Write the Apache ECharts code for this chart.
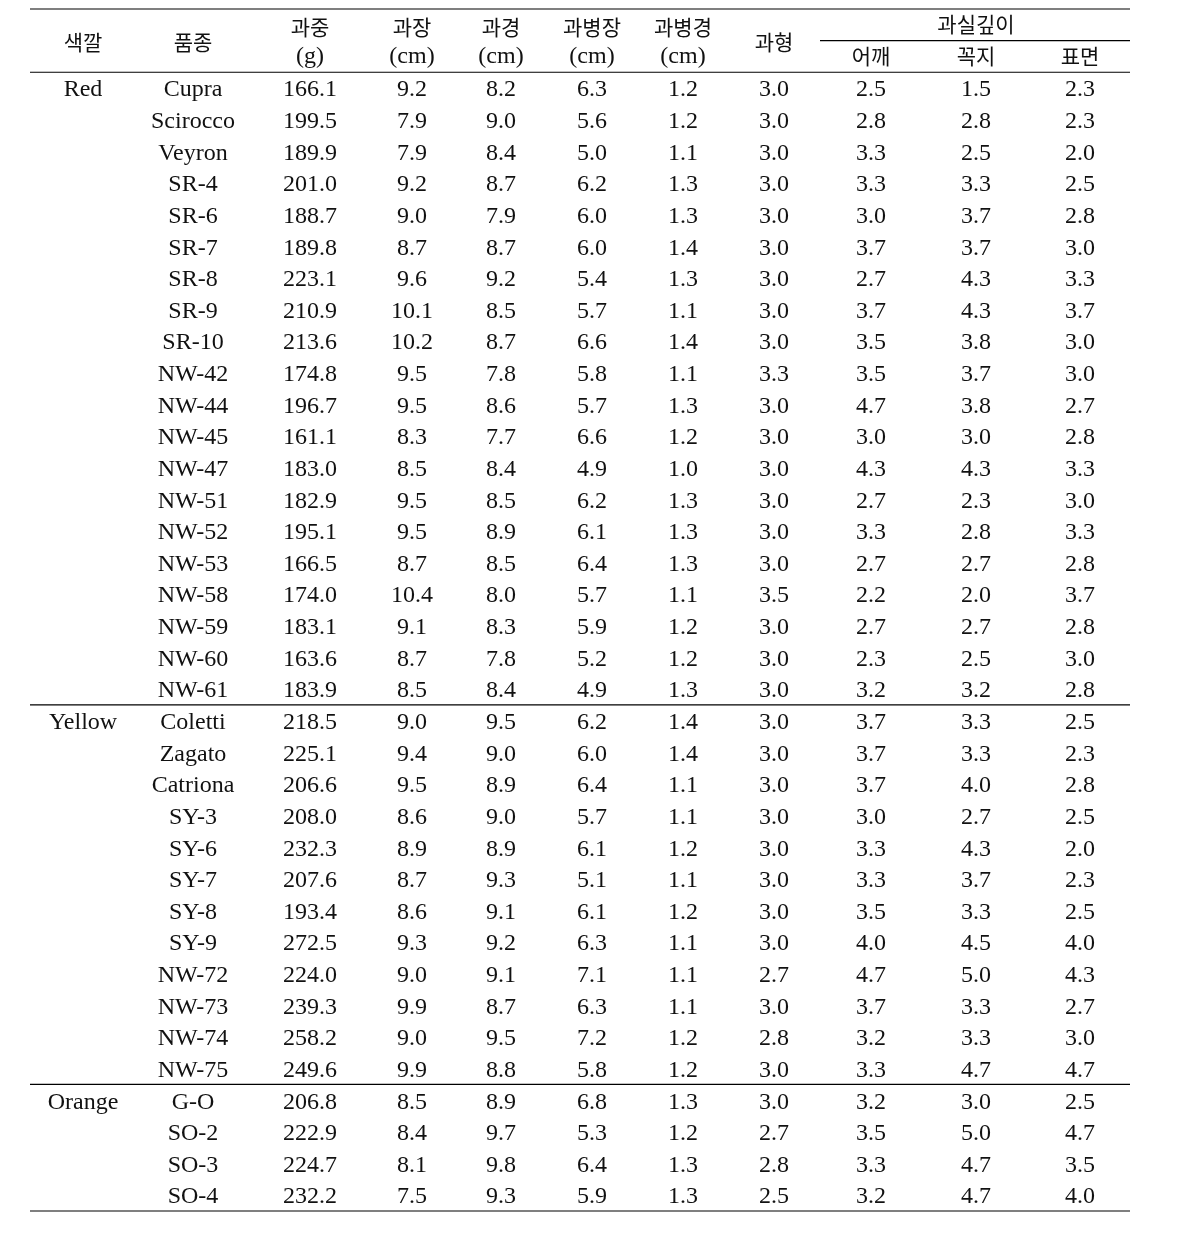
<!DOCTYPE html>
<html>
<head>
<meta charset="utf-8">
<title>품종별 과실 특성</title>
<script src="https://cdn.jsdelivr.net/npm/echarts@6/dist/echarts.min.js"></script>
<style>
html, body { margin: 0; padding: 0; background: #fff; }
#chart { width: 1180px; height: 1250px; }
</style>
</head>
<body>
<div id="chart"></div>
<script>
// 색깔 그룹
const colorGroups = ['Red', 'Yellow', 'Orange']
const groupSizes = [20, 12, 4]

// 품종
const varieties = [
  'Cupra', 'Scirocco', 'Veyron', 'SR-4', 'SR-6', 'SR-7', 'SR-8', 'SR-9', 'SR-10', 'NW-42',
  'NW-44', 'NW-45', 'NW-47', 'NW-51', 'NW-52', 'NW-53', 'NW-58', 'NW-59', 'NW-60', 'NW-61',
  'Coletti', 'Zagato', 'Catriona', 'SY-3', 'SY-6', 'SY-7', 'SY-8', 'SY-9', 'NW-72', 'NW-73',
  'NW-74', 'NW-75',
  'G-O', 'SO-2', 'SO-3', 'SO-4'
]
// 과중 (g)
const fruitWeight = [
  166.1, 199.5, 189.9, 201.0, 188.7, 189.8, 223.1, 210.9, 213.6, 174.8,
  196.7, 161.1, 183.0, 182.9, 195.1, 166.5, 174.0, 183.1, 163.6, 183.9,
  218.5, 225.1, 206.6, 208.0, 232.3, 207.6, 193.4, 272.5, 224.0, 239.3,
  258.2, 249.6,
  206.8, 222.9, 224.7, 232.2
]
// 과장 (cm)
const fruitLength = [
  9.2, 7.9, 7.9, 9.2, 9.0, 8.7, 9.6, 10.1, 10.2, 9.5,
  9.5, 8.3, 8.5, 9.5, 9.5, 8.7, 10.4, 9.1, 8.7, 8.5,
  9.0, 9.4, 9.5, 8.6, 8.9, 8.7, 8.6, 9.3, 9.0, 9.9,
  9.0, 9.9,
  8.5, 8.4, 8.1, 7.5
]
// 과경 (cm)
const fruitDiameter = [
  8.2, 9.0, 8.4, 8.7, 7.9, 8.7, 9.2, 8.5, 8.7, 7.8,
  8.6, 7.7, 8.4, 8.5, 8.9, 8.5, 8.0, 8.3, 7.8, 8.4,
  9.5, 9.0, 8.9, 9.0, 8.9, 9.3, 9.1, 9.2, 9.1, 8.7,
  9.5, 8.8,
  8.9, 9.7, 9.8, 9.3
]
// 과병장 (cm)
const stalkLength = [
  6.3, 5.6, 5.0, 6.2, 6.0, 6.0, 5.4, 5.7, 6.6, 5.8,
  5.7, 6.6, 4.9, 6.2, 6.1, 6.4, 5.7, 5.9, 5.2, 4.9,
  6.2, 6.0, 6.4, 5.7, 6.1, 5.1, 6.1, 6.3, 7.1, 6.3,
  7.2, 5.8,
  6.8, 5.3, 6.4, 5.9
]
// 과병경 (cm)
const stalkDiameter = [
  1.2, 1.2, 1.1, 1.3, 1.3, 1.4, 1.3, 1.1, 1.4, 1.1,
  1.3, 1.2, 1.0, 1.3, 1.3, 1.3, 1.1, 1.2, 1.2, 1.3,
  1.4, 1.4, 1.1, 1.1, 1.2, 1.1, 1.2, 1.1, 1.1, 1.1,
  1.2, 1.2,
  1.3, 1.2, 1.3, 1.3
]
// 과형
const fruitShape = [
  3.0, 3.0, 3.0, 3.0, 3.0, 3.0, 3.0, 3.0, 3.0, 3.3,
  3.0, 3.0, 3.0, 3.0, 3.0, 3.0, 3.5, 3.0, 3.0, 3.0,
  3.0, 3.0, 3.0, 3.0, 3.0, 3.0, 3.0, 3.0, 2.7, 3.0,
  2.8, 3.0,
  3.0, 2.7, 2.8, 2.5
]
// 과실깊이 - 어깨
const depthShoulder = [
  2.5, 2.8, 3.3, 3.3, 3.0, 3.7, 2.7, 3.7, 3.5, 3.5,
  4.7, 3.0, 4.3, 2.7, 3.3, 2.7, 2.2, 2.7, 2.3, 3.2,
  3.7, 3.7, 3.7, 3.0, 3.3, 3.3, 3.5, 4.0, 4.7, 3.7,
  3.2, 3.3,
  3.2, 3.5, 3.3, 3.2
]
// 과실깊이 - 꼭지
const depthStem = [
  1.5, 2.8, 2.5, 3.3, 3.7, 3.7, 4.3, 4.3, 3.8, 3.7,
  3.8, 3.0, 4.3, 2.3, 2.8, 2.7, 2.0, 2.7, 2.5, 3.2,
  3.3, 3.3, 4.0, 2.7, 4.3, 3.7, 3.3, 4.5, 5.0, 3.3,
  3.3, 4.7,
  3.0, 5.0, 4.7, 4.7
]
// 과실깊이 - 표면
const depthSurface = [
  2.3, 2.3, 2.0, 2.5, 2.8, 3.0, 3.3, 3.7, 3.0, 3.0,
  2.7, 2.8, 3.3, 3.0, 3.3, 2.8, 3.7, 2.8, 3.0, 2.8,
  2.5, 2.3, 2.8, 2.5, 2.0, 2.3, 2.5, 4.0, 4.3, 2.7,
  3.0, 4.7,
  2.5, 4.7, 3.5, 4.0
]

// 헤더
const headNames = ['색깔', '품종', '과중', '과장', '과경', '과병장', '과병경', '과형', '어깨', '꼭지', '표면']
const headUnits = ['', '', '(g)', '(cm)', '(cm)', '(cm)', '(cm)', '', '', '', '']
const depthTitle = '과실깊이'

// layout (x: px from table left edge, y: row units)
const colCenter = [53, 163, 280, 382, 471, 562, 653, 744, 841, 946, 1050]
const tableWidth = 1100
const depthLineStart = 790
const latinFont = '24px "Liberation Serif", "DejaVu Serif", serif'
const koreanFont = '21px "Noto Sans CJK KR", sans-serif'
const latinShift = 2

const valueCols = [fruitWeight, fruitLength, fruitDiameter, stalkLength, stalkDiameter,
  fruitShape, depthShoulder, depthStem, depthSurface]

const cells = []
// header cells
headNames.forEach((name, i) => {
  if (i >= 8) {
    cells.push({ x: colCenter[i], y: -1.0, text: name, font: koreanFont })
  } else if (headUnits[i]) {
    cells.push({ x: colCenter[i], y: -1.93, text: name, font: koreanFont })
    cells.push({ x: colCenter[i], y: -1.06, text: headUnits[i], font: latinFont, dy: latinShift })
  } else {
    cells.push({ x: colCenter[i], y: -1.47, text: name, font: koreanFont })
  }
})
cells.push({ x: colCenter[9], y: -2.03, text: depthTitle, font: koreanFont })

// body cells
let start = 0
colorGroups.forEach((g, gi) => {
  cells.push({ x: colCenter[0], y: start, text: g, font: latinFont, dy: latinShift })
  start += groupSizes[gi]
})
varieties.forEach((v, r) => {
  cells.push({ x: colCenter[1], y: r, text: v, font: latinFont, dy: latinShift })
  valueCols.forEach((col, ci) => {
    cells.push({ x: colCenter[ci + 2], y: r, text: col[r].toFixed(1), font: latinFont, dy: latinShift })
  })
})

// rules: [x0, y, x1]
const yMin = -2.5
const yMax = varieties.length - 0.5
const rules = [[0, yMin, tableWidth], [depthLineStart, -1.5, tableWidth], [0, -0.5, tableWidth]]
let acc = 0
groupSizes.forEach((n, gi) => {
  acc += n
  if (gi < groupSizes.length - 1) rules.push([0, acc - 0.5, tableWidth])
})
rules.push([0, yMax, tableWidth])

const chart = echarts.init(document.getElementById('chart'))
chart.setOption({
  animation: false,
  backgroundColor: '#fff',
  grid: { left: 30, right: 50, top: 9, bottom: 39 },
  xAxis: { type: 'value', min: 0, max: tableWidth, show: false },
  yAxis: { type: 'value', min: yMin, max: yMax, inverse: true, show: false },
  series: [
    {
      type: 'custom',
      clip: false,
      silent: true,
      data: rules,
      renderItem (params, api) {
        const a = api.coord([api.value(0), api.value(1)])
        const b = api.coord([api.value(2), api.value(1)])
        return {
          type: 'line',
          shape: { x1: a[0], y1: a[1], x2: b[0], y2: b[1] },
          style: { stroke: '#000', lineWidth: 1.2 }
        }
      }
    },
    {
      type: 'custom',
      clip: false,
      silent: true,
      data: cells.map(c => [c.x, c.y]),
      renderItem (params, api) {
        const c = cells[params.dataIndex]
        const p = api.coord([api.value(0), api.value(1)])
        return {
          type: 'text',
          x: p[0],
          y: p[1] + (c.dy || 0),
          style: {
            text: c.text,
            font: c.font,
            fill: '#111',
            textAlign: 'center',
            textVerticalAlign: 'middle'
          }
        }
      }
    }
  ]
})
</script>
</body>
</html>
